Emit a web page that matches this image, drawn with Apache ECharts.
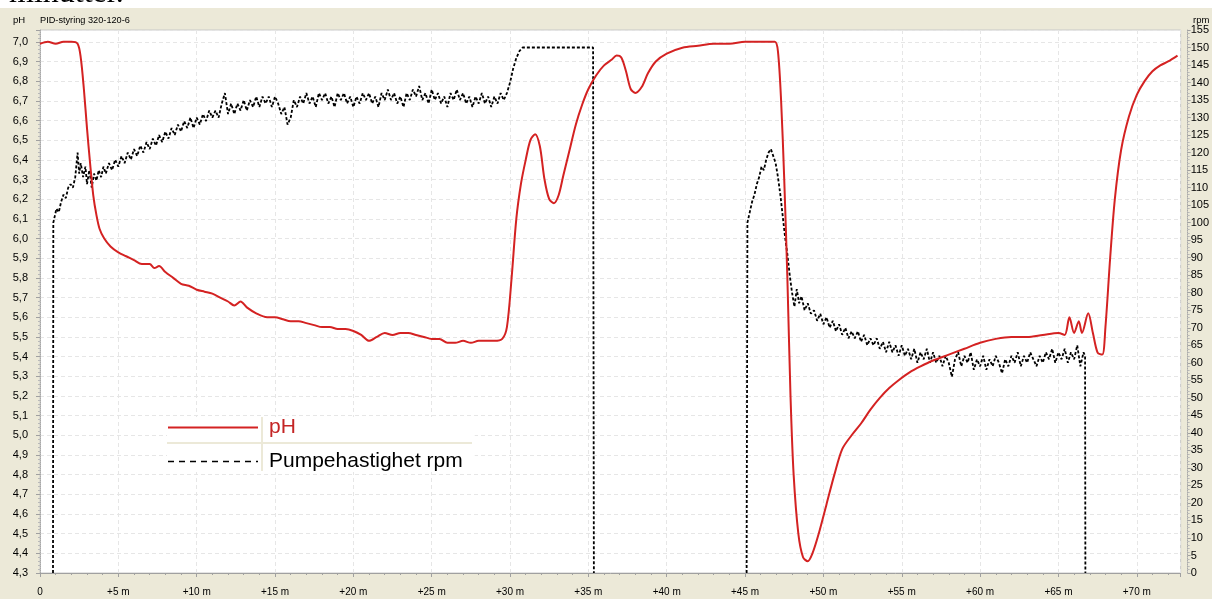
<!DOCTYPE html>
<html>
<head>
<meta charset="utf-8">
<script src="https://cdn.jsdelivr.net/npm/echarts@6/dist/echarts.min.js"></script>
<style>
html,body{margin:0;padding:0;background:#fff;}
#chart{width:1212px;height:599px;}
</style>
</head>
<body>
<div id="chart"></div>
<script>
// ---- data ----
const phMinutes = [0,0.5,1.0,1.5,2.0,2.4,2.6,2.8,3.0,3.2,3.4,3.6,3.8,4.1,4.5,5.0,5.5,6.0,6.5,7.0,7.3,7.6,8.0,8.5,9.0,9.5,10.0,10.5,11.0,11.5,12.0,12.4,12.8,13.2,13.8,14.5,15.0,15.5,16.0,16.5,17.0,17.5,18.0,18.5,19.0,19.5,20.0,20.5,21.0,21.5,22.0,22.5,23.0,23.5,24.0,24.5,25.0,25.5,26.0,26.5,27.0,27.5,28.0,28.5,29.0,29.5,29.8,30.1,30.4,30.7,31.0,31.3,31.6,31.9,32.2,32.5,32.8,33.1,33.4,33.8,34.2,34.6,35.0,35.5,36.0,36.5,36.8,37.1,37.4,37.7,38.0,38.4,38.8,39.3,40.0,41.0,42.0,43.0,44.0,45.0,46.0,46.9,47.1,47.3,47.5,47.7,47.9,48.1,48.4,48.7,49.0,49.3,49.7,50.2,50.7,51.2,51.8,52.4,53.0,53.6,54.2,54.8,55.5,56.2,57.0,58.0,59.0,60.0,61.0,62.0,63.0,64.0,65.0,65.4,65.7,66.0,66.3,66.5,66.9,67.2,67.5,67.8,68.0,68.3,68.6,69.0,69.5,70.0,70.5,71.0,71.5,72.0,72.6];
const phValues = [6.99,7.00,6.99,7.00,7.00,6.99,6.92,6.76,6.56,6.38,6.22,6.12,6.05,6.00,5.96,5.93,5.91,5.89,5.87,5.87,5.85,5.86,5.83,5.80,5.77,5.76,5.74,5.73,5.72,5.70,5.68,5.66,5.68,5.65,5.62,5.60,5.60,5.59,5.58,5.58,5.57,5.56,5.55,5.55,5.54,5.54,5.53,5.51,5.48,5.50,5.52,5.51,5.52,5.52,5.51,5.50,5.49,5.49,5.47,5.47,5.48,5.47,5.48,5.48,5.48,5.49,5.55,5.80,6.10,6.28,6.40,6.50,6.53,6.47,6.30,6.20,6.18,6.22,6.32,6.45,6.58,6.68,6.76,6.83,6.88,6.91,6.93,6.92,6.85,6.76,6.74,6.77,6.84,6.90,6.94,6.97,6.98,6.99,6.99,7.00,7.00,7.00,6.95,6.70,6.30,5.80,5.20,4.80,4.50,4.38,4.36,4.40,4.50,4.65,4.80,4.93,5.00,5.06,5.13,5.19,5.24,5.28,5.32,5.35,5.38,5.41,5.44,5.47,5.49,5.50,5.50,5.51,5.52,5.51,5.60,5.52,5.58,5.52,5.62,5.52,5.42,5.41,5.55,5.90,6.20,6.45,6.62,6.73,6.80,6.85,6.88,6.90,6.93];

// null = pump off (no trace drawn along the bottom)
const rpmMinutes = [0.83,0.85,0.95,1.05,1.2,1.35,1.5,1.65,1.8,1.95,2.1,2.25,2.4,2.5,2.6,2.75,2.9,3.0,3.15,3.3,3.45,3.6,3.75,3.9,4.05,4.2,4.4,4.6,4.8,5.0,5.2,5.4,5.6,5.8,6.0,6.2,6.4,6.6,6.8,7.0,7.2,7.4,7.6,7.8,8.0,8.2,8.4,8.6,8.8,9.0,9.2,9.4,9.6,9.8,10.0,10.2,10.4,10.6,10.8,11.0,11.2,11.4,11.6,11.8,12.0,12.2,12.4,12.6,12.8,13.0,13.2,13.4,13.6,13.8,14.0,14.2,14.4,14.6,14.8,15.0,15.2,15.4,15.6,15.8,16.0,16.2,16.4,16.6,16.8,17.0,17.2,17.4,17.6,17.8,18.0,18.2,18.4,18.6,18.8,19.0,19.2,19.4,19.6,19.8,20.0,20.2,20.4,20.6,20.8,21.0,21.2,21.4,21.6,21.8,22.0,22.2,22.4,22.6,22.8,23.0,23.2,23.4,23.6,23.8,24.0,24.2,24.4,24.6,24.8,25.0,25.2,25.4,25.6,25.8,26.0,26.2,26.4,26.6,26.8,27.0,27.2,27.4,27.6,27.8,28.0,28.2,28.4,28.6,28.8,29.0,29.2,29.4,29.6,29.8,30.0,30.2,30.4,30.6,30.8,31.0,32.0,33.0,34.0,35.3,35.35,35.4,45.1,45.15,45.3,45.45,45.6,45.75,45.9,46.05,46.2,46.35,46.5,46.65,46.8,46.95,47.1,47.25,47.4,47.55,47.7,47.85,48.0,48.15,48.3,48.45,48.6,48.8,49.0,49.2,49.4,49.6,49.8,50.0,50.2,50.4,50.6,50.8,51.0,51.2,51.4,51.6,51.8,52.0,52.2,52.4,52.6,52.8,53.0,53.2,53.4,53.6,53.8,54.0,54.2,54.4,54.6,54.8,55.0,55.2,55.4,55.6,55.8,56.0,56.2,56.4,56.6,56.8,57.0,57.2,57.4,57.6,57.8,58.0,58.2,58.4,58.6,58.8,59.0,59.2,59.4,59.6,59.8,60.0,60.2,60.4,60.6,60.8,61.0,61.2,61.4,61.6,61.8,62.0,62.2,62.4,62.6,62.8,63.0,63.2,63.4,63.6,63.8,64.0,64.2,64.4,64.6,64.8,65.0,65.2,65.4,65.6,65.8,66.0,66.2,66.4,66.6,66.7,66.72];
const rpmValues = [0,100,102,104,103,106,108,107,110,111,110,113,120,114,117,113,116,111,115,110,114,112,115,113,116,114,117,115,118,116,119,117,120,118,121,119,122,120,123,121,124,122,125,123,126,124,127,125,128,126,129,127,130,127,130,128,131,129,132,130,132,130,134,137,131,134,131,134,132,135,132,135,133,136,133,136,134,136,133,136,134,131,133,128,130,135,133,136,134,137,134,136,133,137,135,137,134,136,133,137,135,137,134,136,133,136,134,137,135,137,134,136,133,137,135,138,135,137,134,136,133,137,135,138,136,139,135,137,134,138,135,137,134,136,133,137,135,138,135,137,134,136,133,136,134,137,134,136,133,136,134,137,135,137,140,144,147,149,150,150,150,150,150,150,0,null,0,100,103,106,108,111,113,116,115,118,120,121,119,117,113,108,102,96,91,85,80,76,81,77,79,75,77,74,75,72,74,71,73,70,72,69,71,68,70,67,69,67,69,66,68,65,67,65,67,64,66,63,66,63,65,62,65,62,64,61,64,60,63,61,64,60,63,60,62,59,62,60,56,61,63,59,62,60,63,58,61,59,62,58,61,59,62,60,57,61,59,62,60,63,59,62,60,63,61,59,62,60,63,61,64,60,63,61,64,60,63,61,65,59,63,62,0];

const xTickStep = 5;
const phSeriesName = 'pH';
const rpmSeriesName = 'Pumpehastighet rpm';

const phData = phMinutes.map((m, i) => [m, phValues[i]]);
const rpmData = rpmMinutes.map((m, i) => [m, rpmValues[i] === null ? '-' : rpmValues[i]]);

const FONT = 'Liberation Sans';
const chart = echarts.init(document.getElementById('chart'), null, {renderer: 'canvas'});

chart.setOption({
  animation: false,
  backgroundColor: '#ffffff',
  textStyle: {fontFamily: FONT},
  grid: {left: 40, right: 25, top: 30, bottom: 26, show: true, backgroundColor: '#ffffff', borderColor: '#c8c8c8', borderWidth: 1, containLabel: false},
  graphic: [
    {type: 'rect', z: -100, shape: {x: 0, y: 8, width: 1212, height: 591}, style: {fill: '#ECE9D8'}, silent: true},
    {type: 'text', z: -50, x: 9, y: 10, style: {text: 'minutter.', font: '32px "Liberation Serif"', fill: '#000', verticalAlign: 'bottom'}},
    {type: 'text', x: 13, y: 20, style: {text: 'pH', font: '9.5px "Liberation Sans"', fill: '#000', verticalAlign: 'middle'}},
    {type: 'text', x: 40, y: 20, style: {text: 'PID-styring 320-120-6', font: '9.2px "Liberation Sans"', fill: '#000', verticalAlign: 'middle'}},
    {type: 'text', x: 1193, y: 20, style: {text: 'rpm', font: '9.5px "Liberation Sans"', fill: '#000', verticalAlign: 'middle'}},
    {type: 'line', z: 200, shape: {x1: 167, y1: 443, x2: 472, y2: 443}, style: {stroke: '#ECE9D8', lineWidth: 2}},
    {type: 'line', z: 200, shape: {x1: 262, y1: 417, x2: 262, y2: 471}, style: {stroke: '#ECE9D8', lineWidth: 2}}
  ],
  legend: {
    left: 167, top: 417, orient: 'vertical', itemWidth: 90, itemHeight: 14, itemGap: 13,
    backgroundColor: '#ffffff', padding: [0, 12, 0, 0],
    itemStyle: {color: 'rgba(0,0,0,0)', borderColor: 'rgba(0,0,0,0)', borderWidth: 0, opacity: 0},
    textStyle: {fontSize: 21, fontFamily: FONT, padding: [0, 0, 0, 6]},
    data: [
      {name: phSeriesName, textStyle: {color: '#c42525'}},
      {name: rpmSeriesName, textStyle: {color: '#000'}, lineStyle: {type: [6, 5], width: 1.6, color: '#000'}}
    ]
  },
  xAxis: {
    type: 'value', min: 0, max: 72.8, interval: xTickStep, offset: 8,
    axisLine: {show: true, lineStyle: {color: '#a0a0a0'}},
    axisTick: {show: true, length: 4, lineStyle: {color: '#a0a0a0'}},
    minorTick: {show: true, splitNumber: 5, length: 2, lineStyle: {color: '#a0a0a0'}},
    axisLabel: {margin: 6, fontSize: 10, color: '#000', fontFamily: FONT,
      formatter: v => (Math.abs(v / xTickStep - Math.round(v / xTickStep)) > 1e-6) ? '' : (v === 0 ? '0' : '+' + v + ' m')},
    splitLine: {show: true, lineStyle: {color: '#e6e6e6', type: [4, 3]}}
  },
  yAxis: [
    {
      type: 'value', position: 'left', min: 4.3, max: 7.06, interval: 0.1, offset: 8,
      axisLine: {show: true, lineStyle: {color: '#a8a8a8', type: 'dotted'}},
      axisTick: {show: true, length: 4, lineStyle: {color: '#a0a0a0'}},
      minorTick: {show: true, splitNumber: 5, length: 2, lineStyle: {color: '#b8b8b8'}},
      axisLabel: {margin: 4, fontSize: 11, color: '#000', fontFamily: FONT,
        formatter: v => (Math.abs(v * 10 - Math.round(v * 10)) > 1e-6) ? '' : v.toFixed(1).replace('.', ',')},
      splitLine: {show: true, lineStyle: {color: '#e6e6e6', type: [4, 3]}}
    },
    {
      type: 'value', position: 'right', min: 0, max: 155, interval: 5, offset: 7,
      axisLine: {show: true, lineStyle: {color: '#a8a8a8', type: 'dotted'}},
      axisTick: {show: true, length: 3, lineStyle: {color: '#a0a0a0'}},
      minorTick: {show: true, splitNumber: 5, length: 2, lineStyle: {color: '#b8b8b8'}},
      axisLabel: {margin: 3, fontSize: 11, color: '#000', fontFamily: FONT},
      splitLine: {show: false}
    }
  ],
  series: [
    {
      name: phSeriesName, type: 'line', yAxisIndex: 0, data: phData, showSymbol: false, symbol: 'none',
      smooth: 0.3, lineStyle: {color: '#d42222', width: 2}, itemStyle: {color: '#d42222'}, z: 3
    },
    {
      name: rpmSeriesName, type: 'line', yAxisIndex: 1, data: rpmData, showSymbol: false, symbol: 'none',
      connectNulls: false,
      lineStyle: {color: '#000', width: 1.8, type: [3, 2]}, itemStyle: {color: '#000'}, z: 2
    }
  ]
});
</script>
</body>
</html>
